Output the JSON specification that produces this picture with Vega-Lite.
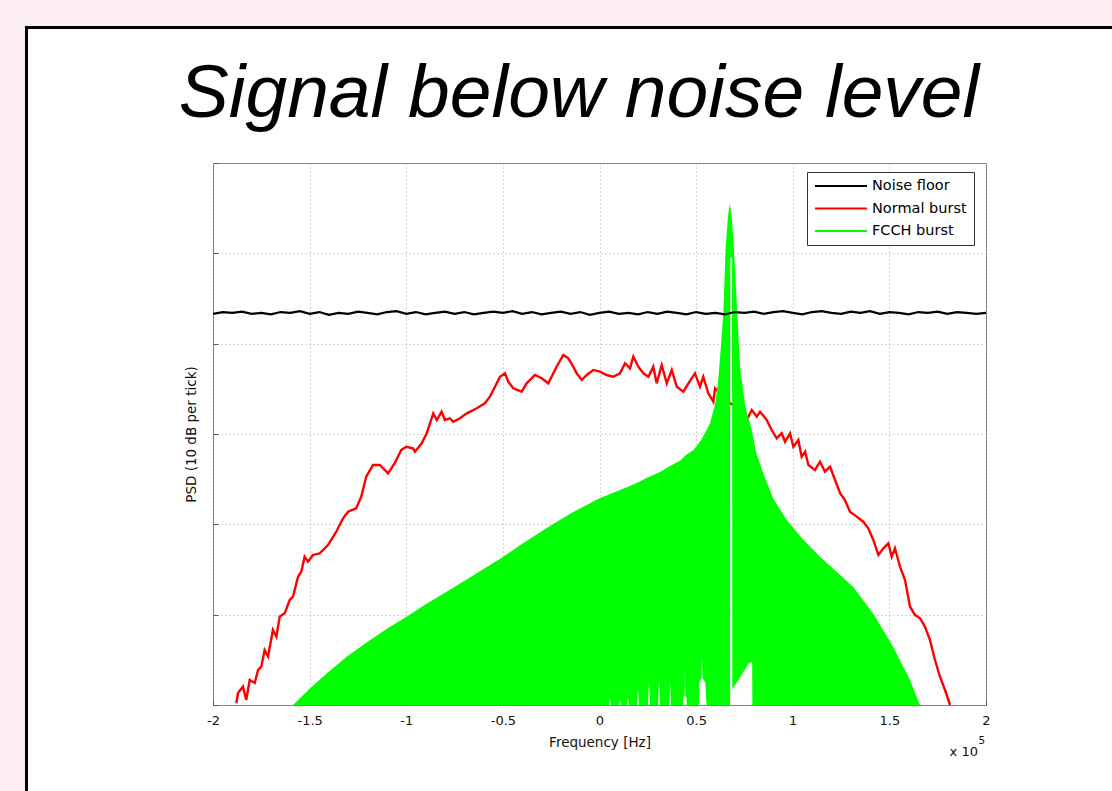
{
  "$schema": "https://vega.github.io/schema/vega-lite/v6.json",
  "width": 773,
  "height": 542,
  "autosize": "none",
  "padding": {"left": 213, "top": 163, "right": 126, "bottom": 86},
  "background": "#ffffff",
  "config": {
    "view": {"stroke": "#777777", "strokeWidth": 1},
    "axis": {
      "grid": true,
      "gridColor": "#a8a8a8",
      "gridDash": [1, 3],
      "gridWidth": 1,
      "domain": false,
      "labelFont": "DejaVu Sans",
      "titleFont": "DejaVu Sans",
      "labelColor": "#111111",
      "titleColor": "#111111",
      "titleFontWeight": "normal",
      "tickColor": "#555555"
    }
  },
  "datasets": {
    "noise": [
      {"freq": -2.00, "psd": 4.33}, {"freq": -1.95, "psd": 4.35}, {"freq": -1.90, "psd": 4.34}, {"freq": -1.85, "psd": 4.355},
      {"freq": -1.80, "psd": 4.33}, {"freq": -1.75, "psd": 4.34}, {"freq": -1.70, "psd": 4.325}, {"freq": -1.65, "psd": 4.35},
      {"freq": -1.60, "psd": 4.34}, {"freq": -1.55, "psd": 4.36}, {"freq": -1.50, "psd": 4.33}, {"freq": -1.45, "psd": 4.35},
      {"freq": -1.40, "psd": 4.32}, {"freq": -1.35, "psd": 4.34}, {"freq": -1.30, "psd": 4.33}, {"freq": -1.25, "psd": 4.355},
      {"freq": -1.20, "psd": 4.34}, {"freq": -1.15, "psd": 4.325}, {"freq": -1.10, "psd": 4.35}, {"freq": -1.05, "psd": 4.36},
      {"freq": -1.00, "psd": 4.33}, {"freq": -0.95, "psd": 4.35}, {"freq": -0.90, "psd": 4.325}, {"freq": -0.85, "psd": 4.34},
      {"freq": -0.80, "psd": 4.355}, {"freq": -0.75, "psd": 4.33}, {"freq": -0.70, "psd": 4.35}, {"freq": -0.65, "psd": 4.325},
      {"freq": -0.60, "psd": 4.34}, {"freq": -0.55, "psd": 4.355}, {"freq": -0.50, "psd": 4.34}, {"freq": -0.45, "psd": 4.36},
      {"freq": -0.40, "psd": 4.33}, {"freq": -0.35, "psd": 4.35}, {"freq": -0.30, "psd": 4.325}, {"freq": -0.25, "psd": 4.34},
      {"freq": -0.20, "psd": 4.355}, {"freq": -0.15, "psd": 4.33}, {"freq": -0.10, "psd": 4.35}, {"freq": -0.05, "psd": 4.32},
      {"freq": 0.00, "psd": 4.34}, {"freq": 0.05, "psd": 4.355}, {"freq": 0.10, "psd": 4.33}, {"freq": 0.15, "psd": 4.34},
      {"freq": 0.20, "psd": 4.325}, {"freq": 0.25, "psd": 4.35}, {"freq": 0.30, "psd": 4.33}, {"freq": 0.35, "psd": 4.355},
      {"freq": 0.40, "psd": 4.34}, {"freq": 0.45, "psd": 4.325}, {"freq": 0.50, "psd": 4.35}, {"freq": 0.55, "psd": 4.33},
      {"freq": 0.60, "psd": 4.34}, {"freq": 0.65, "psd": 4.325}, {"freq": 0.70, "psd": 4.35}, {"freq": 0.75, "psd": 4.34},
      {"freq": 0.80, "psd": 4.355}, {"freq": 0.85, "psd": 4.33}, {"freq": 0.90, "psd": 4.35}, {"freq": 0.95, "psd": 4.36},
      {"freq": 1.00, "psd": 4.34}, {"freq": 1.05, "psd": 4.325}, {"freq": 1.10, "psd": 4.35}, {"freq": 1.15, "psd": 4.36},
      {"freq": 1.20, "psd": 4.34}, {"freq": 1.25, "psd": 4.33}, {"freq": 1.30, "psd": 4.355}, {"freq": 1.35, "psd": 4.34},
      {"freq": 1.40, "psd": 4.36}, {"freq": 1.45, "psd": 4.33}, {"freq": 1.50, "psd": 4.35}, {"freq": 1.55, "psd": 4.34},
      {"freq": 1.60, "psd": 4.325}, {"freq": 1.65, "psd": 4.35}, {"freq": 1.70, "psd": 4.34}, {"freq": 1.75, "psd": 4.355},
      {"freq": 1.80, "psd": 4.33}, {"freq": 1.85, "psd": 4.35}, {"freq": 1.90, "psd": 4.34}, {"freq": 1.95, "psd": 4.33},
      {"freq": 2.00, "psd": 4.34}
    ],
    "normal": [
      {"freq": -1.879, "psd": 0.019}, {"freq": -1.871, "psd": 0.133}, {"freq": -1.845, "psd": 0.203}, {"freq": -1.828, "psd": 0.055},
      {"freq": -1.810, "psd": 0.277}, {"freq": -1.784, "psd": 0.244}, {"freq": -1.767, "psd": 0.387}, {"freq": -1.750, "psd": 0.424},
      {"freq": -1.733, "psd": 0.609}, {"freq": -1.715, "psd": 0.535}, {"freq": -1.690, "psd": 0.830}, {"freq": -1.672, "psd": 0.756},
      {"freq": -1.655, "psd": 0.978}, {"freq": -1.629, "psd": 1.015}, {"freq": -1.603, "psd": 1.162}, {"freq": -1.586, "psd": 1.199},
      {"freq": -1.560, "psd": 1.420}, {"freq": -1.543, "psd": 1.476}, {"freq": -1.526, "psd": 1.642}, {"freq": -1.508, "psd": 1.586},
      {"freq": -1.483, "psd": 1.661}, {"freq": -1.448, "psd": 1.679}, {"freq": -1.405, "psd": 1.771}, {"freq": -1.362, "psd": 1.918},
      {"freq": -1.327, "psd": 2.067}, {"freq": -1.301, "psd": 2.140}, {"freq": -1.259, "psd": 2.178}, {"freq": -1.233, "psd": 2.306},
      {"freq": -1.207, "psd": 2.527}, {"freq": -1.172, "psd": 2.657}, {"freq": -1.137, "psd": 2.657}, {"freq": -1.094, "psd": 2.565},
      {"freq": -1.060, "psd": 2.676}, {"freq": -1.026, "psd": 2.823}, {"freq": -1.000, "psd": 2.859}, {"freq": -0.965, "psd": 2.841},
      {"freq": -0.955, "psd": 2.804}, {"freq": -0.920, "psd": 2.897}, {"freq": -0.894, "psd": 3.008}, {"freq": -0.860, "psd": 3.229},
      {"freq": -0.842, "psd": 3.155}, {"freq": -0.817, "psd": 3.247}, {"freq": -0.800, "psd": 3.155}, {"freq": -0.774, "psd": 3.174},
      {"freq": -0.757, "psd": 3.136}, {"freq": -0.722, "psd": 3.174}, {"freq": -0.687, "psd": 3.229}, {"freq": -0.635, "psd": 3.285},
      {"freq": -0.593, "psd": 3.340}, {"freq": -0.567, "psd": 3.413}, {"freq": -0.541, "psd": 3.524}, {"freq": -0.515, "psd": 3.634},
      {"freq": -0.489, "psd": 3.672}, {"freq": -0.472, "psd": 3.579}, {"freq": -0.446, "psd": 3.506}, {"freq": -0.403, "psd": 3.468},
      {"freq": -0.377, "psd": 3.561}, {"freq": -0.334, "psd": 3.653}, {"freq": -0.299, "psd": 3.617}, {"freq": -0.265, "psd": 3.561},
      {"freq": -0.222, "psd": 3.745}, {"freq": -0.187, "psd": 3.875}, {"freq": -0.161, "psd": 3.838}, {"freq": -0.136, "psd": 3.745},
      {"freq": -0.118, "psd": 3.672}, {"freq": -0.092, "psd": 3.598}, {"freq": -0.066, "psd": 3.653}, {"freq": -0.032, "psd": 3.709},
      {"freq": 0.003, "psd": 3.690}, {"freq": 0.037, "psd": 3.653}, {"freq": 0.071, "psd": 3.634}, {"freq": 0.106, "psd": 3.672},
      {"freq": 0.132, "psd": 3.783}, {"freq": 0.158, "psd": 3.727}, {"freq": 0.175, "psd": 3.856}, {"freq": 0.201, "psd": 3.745},
      {"freq": 0.227, "psd": 3.672}, {"freq": 0.253, "psd": 3.634}, {"freq": 0.278, "psd": 3.745}, {"freq": 0.296, "psd": 3.561},
      {"freq": 0.322, "psd": 3.764}, {"freq": 0.348, "psd": 3.561}, {"freq": 0.374, "psd": 3.709}, {"freq": 0.400, "psd": 3.524},
      {"freq": 0.434, "psd": 3.468}, {"freq": 0.460, "psd": 3.561}, {"freq": 0.494, "psd": 3.672}, {"freq": 0.520, "psd": 3.524},
      {"freq": 0.537, "psd": 3.634}, {"freq": 0.563, "psd": 3.451}, {"freq": 0.589, "psd": 3.358}, {"freq": 0.598, "psd": 3.506},
      {"freq": 0.634, "psd": 3.430}, {"freq": 0.675, "psd": 3.343}, {"freq": 0.717, "psd": 3.290}, {"freq": 0.762, "psd": 3.155},
      {"freq": 0.788, "psd": 3.266}, {"freq": 0.814, "psd": 3.192}, {"freq": 0.831, "psd": 3.247}, {"freq": 0.865, "psd": 3.155},
      {"freq": 0.891, "psd": 3.044}, {"freq": 0.917, "psd": 2.952}, {"freq": 0.943, "psd": 3.008}, {"freq": 0.960, "psd": 2.915},
      {"freq": 0.986, "psd": 3.008}, {"freq": 1.003, "psd": 2.859}, {"freq": 1.029, "psd": 2.934}, {"freq": 1.046, "psd": 2.749},
      {"freq": 1.064, "psd": 2.804}, {"freq": 1.081, "psd": 2.657}, {"freq": 1.115, "psd": 2.602}, {"freq": 1.141, "psd": 2.693},
      {"freq": 1.167, "psd": 2.583}, {"freq": 1.193, "psd": 2.638}, {"freq": 1.219, "psd": 2.491}, {"freq": 1.245, "psd": 2.344},
      {"freq": 1.270, "psd": 2.269}, {"freq": 1.296, "psd": 2.140}, {"freq": 1.331, "psd": 2.085}, {"freq": 1.365, "psd": 2.029},
      {"freq": 1.391, "psd": 1.956}, {"freq": 1.417, "psd": 1.827}, {"freq": 1.443, "psd": 1.661}, {"freq": 1.469, "psd": 1.735},
      {"freq": 1.495, "psd": 1.790}, {"freq": 1.512, "psd": 1.642}, {"freq": 1.529, "psd": 1.735}, {"freq": 1.555, "psd": 1.531},
      {"freq": 1.581, "psd": 1.384}, {"freq": 1.607, "psd": 1.088}, {"freq": 1.633, "psd": 0.996}, {"freq": 1.659, "psd": 0.960},
      {"freq": 1.684, "psd": 0.867}, {"freq": 1.710, "psd": 0.720}, {"freq": 1.736, "psd": 0.498}, {"freq": 1.762, "psd": 0.313},
      {"freq": 1.788, "psd": 0.166}, {"freq": 1.814, "psd": 0.0}
    ],
    "fcch": [
      {"freq": -1.586, "psd": 0.0, "psd_low": 0}, {"freq": -1.50, "psd": 0.18, "psd_low": 0}, {"freq": -1.40, "psd": 0.37, "psd_low": 0},
      {"freq": -1.308, "psd": 0.535, "psd_low": 0}, {"freq": -1.20, "psd": 0.70, "psd_low": 0}, {"freq": -1.10, "psd": 0.845, "psd_low": 0},
      {"freq": -0.998, "psd": 0.977, "psd_low": 0}, {"freq": -0.90, "psd": 1.115, "psd_low": 0}, {"freq": -0.791, "psd": 1.255, "psd_low": 0},
      {"freq": -0.65, "psd": 1.44, "psd_low": 0}, {"freq": -0.498, "psd": 1.642, "psd_low": 0}, {"freq": -0.40, "psd": 1.785, "psd_low": 0},
      {"freq": -0.273, "psd": 1.96, "psd_low": 0}, {"freq": -0.15, "psd": 2.12, "psd_low": 0}, {"freq": 0.0, "psd": 2.288, "psd_low": 0},
      {"freq": 0.049, "psd": 2.33, "psd_low": 0}, {"freq": 0.054, "psd": 2.335, "psd_low": 0.09}, {"freq": 0.059, "psd": 2.34, "psd_low": 0},
      {"freq": 0.101, "psd": 2.375, "psd_low": 0}, {"freq": 0.106, "psd": 2.38, "psd_low": 0.055}, {"freq": 0.111, "psd": 2.385, "psd_low": 0},
      {"freq": 0.142, "psd": 2.41, "psd_low": 0}, {"freq": 0.147, "psd": 2.415, "psd_low": 0.08}, {"freq": 0.152, "psd": 2.42, "psd_low": 0},
      {"freq": 0.194, "psd": 2.46, "psd_low": 0}, {"freq": 0.199, "psd": 2.465, "psd_low": 0.19}, {"freq": 0.204, "psd": 2.47, "psd_low": 0},
      {"freq": 0.251, "psd": 2.52, "psd_low": 0}, {"freq": 0.256, "psd": 2.525, "psd_low": 0.27}, {"freq": 0.261, "psd": 2.53, "psd_low": 0},
      {"freq": 0.303, "psd": 2.57, "psd_low": 0}, {"freq": 0.308, "psd": 2.575, "psd_low": 0.30}, {"freq": 0.313, "psd": 2.58, "psd_low": 0},
      {"freq": 0.360, "psd": 2.64, "psd_low": 0}, {"freq": 0.365, "psd": 2.645, "psd_low": 0.25}, {"freq": 0.370, "psd": 2.65, "psd_low": 0},
      {"freq": 0.420, "psd": 2.71, "psd_low": 0}, {"freq": 0.432, "psd": 2.735, "psd_low": 0}, {"freq": 0.433, "psd": 2.737, "psd_low": 0.09},
      {"freq": 0.441, "psd": 2.753, "psd_low": 0.1}, {"freq": 0.442, "psd": 2.755, "psd_low": 0.41}, {"freq": 0.444, "psd": 2.76, "psd_low": 0.1},
      {"freq": 0.450, "psd": 2.77, "psd_low": 0.08}, {"freq": 0.452, "psd": 2.775, "psd_low": 0},
      {"freq": 0.485, "psd": 2.82, "psd_low": 0}, {"freq": 0.515, "psd": 2.90, "psd_low": 0}, {"freq": 0.517, "psd": 2.91, "psd_low": 0.25},
      {"freq": 0.528, "psd": 2.94, "psd_low": 0.3}, {"freq": 0.530, "psd": 2.95, "psd_low": 0.55}, {"freq": 0.533, "psd": 2.96, "psd_low": 0.3},
      {"freq": 0.548, "psd": 3.02, "psd_low": 0.25}, {"freq": 0.552, "psd": 3.04, "psd_low": 0.05}, {"freq": 0.556, "psd": 3.05, "psd_low": 0},
      {"freq": 0.572, "psd": 3.12, "psd_low": 0}, {"freq": 0.60, "psd": 3.35, "psd_low": 0}, {"freq": 0.614, "psd": 3.59, "psd_low": 0},
      {"freq": 0.624, "psd": 3.85, "psd_low": 0}, {"freq": 0.641, "psd": 4.34, "psd_low": 0}, {"freq": 0.653, "psd": 5.07, "psd_low": 0},
      {"freq": 0.665, "psd": 5.42, "psd_low": 0}, {"freq": 0.675, "psd": 5.554, "psd_low": 0}, {"freq": 0.676, "psd": 5.54, "psd_low": 0},
      {"freq": 0.677, "psd": 5.52, "psd_low": 4.95}, {"freq": 0.686, "psd": 5.36, "psd_low": 4.95}, {"freq": 0.687, "psd": 5.33, "psd_low": 0.17},
      {"freq": 0.695, "psd": 5.07, "psd_low": 0.2}, {"freq": 0.713, "psd": 4.34, "psd_low": 0.26}, {"freq": 0.727, "psd": 3.75, "psd_low": 0.3},
      {"freq": 0.736, "psd": 3.6, "psd_low": 0.34}, {"freq": 0.755, "psd": 3.3, "psd_low": 0.40}, {"freq": 0.772, "psd": 3.16, "psd_low": 0.46},
      {"freq": 0.779, "psd": 3.118, "psd_low": 0.47}, {"freq": 0.790, "psd": 3.02, "psd_low": 0.47}, {"freq": 0.791, "psd": 3.01, "psd_low": 0},
      {"freq": 0.81, "psd": 2.80, "psd_low": 0}, {"freq": 0.848, "psd": 2.564, "psd_low": 0}, {"freq": 0.90, "psd": 2.28, "psd_low": 0},
      {"freq": 0.969, "psd": 2.048, "psd_low": 0}, {"freq": 1.05, "psd": 1.84, "psd_low": 0}, {"freq": 1.141, "psd": 1.642, "psd_low": 0},
      {"freq": 1.23, "psd": 1.47, "psd_low": 0}, {"freq": 1.313, "psd": 1.306, "psd_low": 0}, {"freq": 1.417, "psd": 1.011, "psd_low": 0},
      {"freq": 1.520, "psd": 0.642, "psd_low": 0}, {"freq": 1.607, "psd": 0.277, "psd_low": 0}, {"freq": 1.658, "psd": 0.0, "psd_low": 0}
    ]
  },
  "layer": [
    {
      "data": {"values": [{}]},
      "mark": {"type": "rect", "fill": "#fdeef5", "clip": false},
      "encoding": {
        "x": {"datum": -3.3, "type": "quantitative", "title": "Frequency [Hz]", "scale": {"domain": [-2, 2], "nice": false, "zero": false}},
        "x2": {"datum": -2.9728},
        "y": {"datum": -1.2, "type": "quantitative", "title": "PSD (10 dB per tick)", "scale": {"domain": [0, 6], "nice": false, "zero": false}},
        "y2": {"datum": 8.0}
      }
    },
    {
      "data": {"values": [{}]},
      "mark": {"type": "rect", "fill": "#fdeef5", "clip": false},
      "encoding": {
        "x": {"datum": -3.3, "type": "quantitative", "title": "Frequency [Hz]", "scale": {"domain": [-2, 2], "nice": false, "zero": false}},
        "x2": {"datum": 2.75},
        "y": {"datum": 7.5166, "type": "quantitative", "title": "PSD (10 dB per tick)", "scale": {"domain": [0, 6], "nice": false, "zero": false}},
        "y2": {"datum": 8.0}
      }
    },
    {
      "data": {"values": [{}]},
      "mark": {"type": "rect", "fill": null, "fillOpacity": 0, "stroke": "#000000", "strokeWidth": 3, "clip": false},
      "encoding": {
        "x": {"datum": -2.9651, "type": "quantitative", "title": "Frequency [Hz]", "scale": {"domain": [-2, 2], "nice": false, "zero": false}},
        "x2": {"datum": 2.75},
        "y": {"datum": 7.5, "type": "quantitative", "title": "PSD (10 dB per tick)", "scale": {"domain": [0, 6], "nice": false, "zero": false}},
        "y2": {"datum": -1.2}
      }
    },
    {
      "data": {"values": [{}]},
      "mark": {"type": "text", "text": "Signal below noise level", "font": "Liberation Sans", "fontSize": 75, "fontStyle": "italic", "fontWeight": "normal", "align": "center", "baseline": "alphabetic", "color": "#000000", "clip": false},
      "encoding": {
        "x": {"datum": -0.1061, "type": "quantitative", "title": "Frequency [Hz]", "scale": {"domain": [-2, 2], "nice": false, "zero": false}},
        "y": {"datum": 6.509, "type": "quantitative", "title": "PSD (10 dB per tick)", "scale": {"domain": [0, 6], "nice": false, "zero": false}}
      }
    },
    {
      "data": {"name": "normal"},
      "mark": {"type": "line", "strokeWidth": 2.4, "interpolate": "linear"},
      "encoding": {
        "x": {
          "field": "freq", "type": "quantitative", "title": "Frequency [Hz]",
          "scale": {"domain": [-2, 2], "nice": false, "zero": false},
          "axis": {
            "values": [-2, -1.5, -1, -0.5, 0, 0.5, 1, 1.5, 2],
            "labelExpr": "'' + datum.value",
            "labelFontSize": 13,
            "labelPadding": 14,
            "labelFlush": false,
            "labelOverlap": false,
            "ticks": true,
            "tickSize": -5,
            "titleFontSize": 13.5,
            "titleY": 30,
            "titleBaseline": "top"
          }
        },
        "y": {
          "field": "psd", "type": "quantitative", "title": "PSD (10 dB per tick)",
          "scale": {"domain": [0, 6], "nice": false, "zero": false},
          "axis": {
            "values": [0, 1, 2, 3, 4, 5, 6],
            "labels": false,
            "ticks": true,
            "tickSize": -5,
            "titleFontSize": 13.5,
            "titleX": -22,
            "titleBaseline": "middle"
          }
        },
        "color": {
          "datum": "Normal burst",
          "type": "nominal",
          "scale": {"domain": ["Noise floor", "Normal burst", "FCCH burst"], "range": ["#000000", "#ff0000", "#00ff00"]},
          "legend": {
            "title": null,
            "orient": "none",
            "legendX": 594,
            "legendY": 9,
            "fillColor": "#ffffff",
            "strokeColor": "#333333",
            "padding": 7,
            "labelFont": "DejaVu Sans",
            "labelFontSize": 14.5,
            "labelColor": "#000000",
            "labelOffset": 4,
            "rowPadding": 7.5,
            "clipHeight": 14,
            "symbolType": "stroke",
            "symbolSize": 2704,
            "symbolStrokeWidth": 2,
            "encode": {
              "symbols": {
                "update": {
                  "stroke": {"scale": "color", "field": "value"},
                  "strokeWidth": {"value": 2},
                  "fill": {"value": "transparent"}
                }
              }
            }
          }
        }
      }
    },
    {
      "data": {"name": "fcch"},
      "mark": {"type": "area", "interpolate": "linear", "opacity": 1},
      "encoding": {
        "x": {"field": "freq", "type": "quantitative", "title": "Frequency [Hz]", "scale": {"domain": [-2, 2], "nice": false, "zero": false}},
        "y": {"field": "psd", "type": "quantitative", "title": "PSD (10 dB per tick)", "scale": {"domain": [0, 6], "nice": false, "zero": false}},
        "y2": {"field": "psd_low"},
        "color": {"datum": "FCCH burst", "type": "nominal"}
      }
    },
    {
      "data": {"name": "noise"},
      "mark": {"type": "line", "strokeWidth": 2.2, "interpolate": "linear"},
      "encoding": {
        "x": {"field": "freq", "type": "quantitative", "title": "Frequency [Hz]", "scale": {"domain": [-2, 2], "nice": false, "zero": false}},
        "y": {"field": "psd", "type": "quantitative", "title": "PSD (10 dB per tick)", "scale": {"domain": [0, 6], "nice": false, "zero": false}},
        "color": {"datum": "Noise floor", "type": "nominal"}
      }
    },
    {
      "data": {"values": [{}]},
      "mark": {"type": "text", "text": "x 10", "font": "DejaVu Sans", "fontSize": 13, "align": "right", "baseline": "middle", "color": "#111111", "clip": false},
      "encoding": {
        "x": {"datum": 1.9586, "type": "quantitative", "title": "Frequency [Hz]", "scale": {"domain": [-2, 2], "nice": false, "zero": false}},
        "y": {"datum": -0.52, "type": "quantitative", "title": "PSD (10 dB per tick)", "scale": {"domain": [0, 6], "nice": false, "zero": false}}
      }
    },
    {
      "data": {"values": [{}]},
      "mark": {"type": "text", "text": "5", "font": "DejaVu Sans", "fontSize": 10.5, "align": "left", "baseline": "middle", "color": "#111111", "clip": false},
      "encoding": {
        "x": {"datum": 1.961, "type": "quantitative", "title": "Frequency [Hz]", "scale": {"domain": [-2, 2], "nice": false, "zero": false}},
        "y": {"datum": -0.3985, "type": "quantitative", "title": "PSD (10 dB per tick)", "scale": {"domain": [0, 6], "nice": false, "zero": false}}
      }
    }
  ]
}
